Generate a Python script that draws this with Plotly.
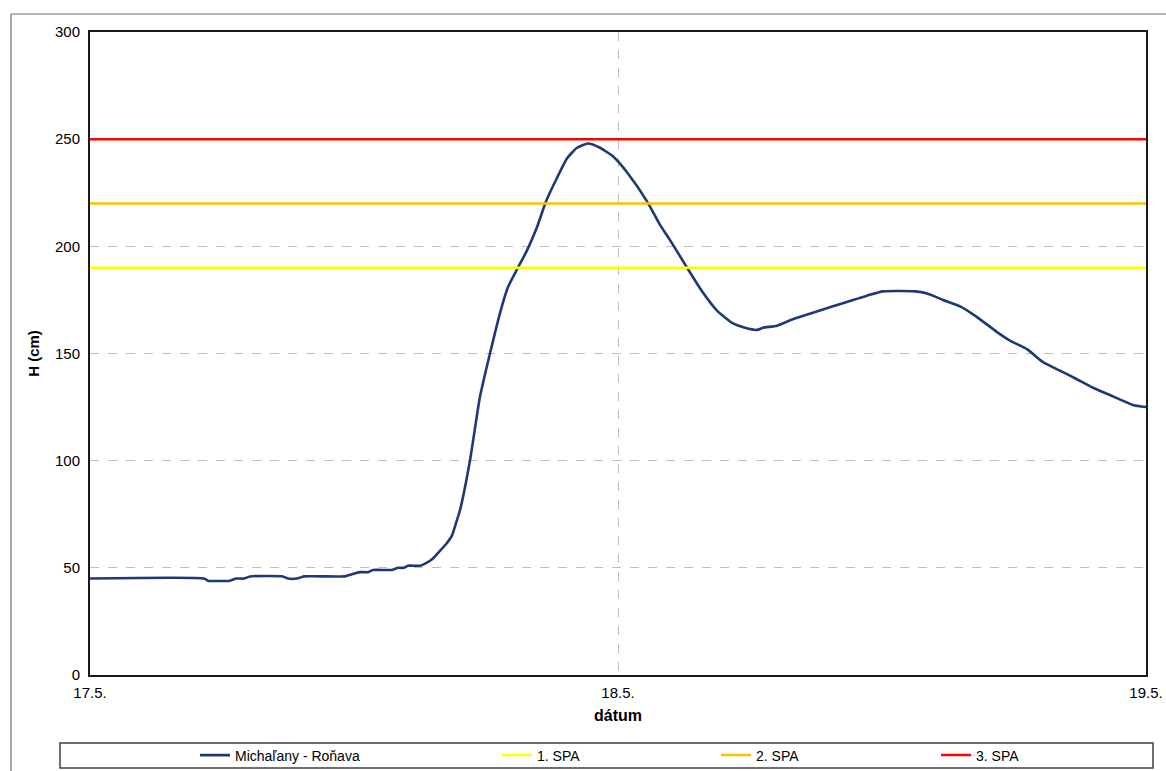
import pandas as pd
import plotly.graph_objects as go

# hours since 17.5. 00:00 and water level H (cm)
hours = [0, 5.18, 5.36, 6.36, 6.64, 7.0, 7.27, 8.77, 9.0, 9.41, 9.73, 11.59, 11.91, 12.27,
         12.64, 12.86, 13.73, 14.0, 14.27, 14.45, 15.0, 15.23, 15.55, 15.82, 16.18, 16.45,
         16.64, 16.82, 17.27, 17.73, 18.18, 18.64, 19.0, 19.45, 19.86, 20.32, 20.73, 21.23,
         21.68, 22.14, 22.64, 23.18, 23.77, 24.45, 25.32, 25.91, 26.36, 27.14, 27.82, 28.5,
         29.23, 29.77, 30.32, 30.59, 31.23, 31.95, 32.86, 33.77, 34.68, 35.32, 36.05, 37.5,
         38.05, 38.77, 39.55, 40.32, 41.23, 41.82, 42.59, 43.32, 44.09, 44.86, 45.59, 46.5,
         47.41, 48.0]
level = [45, 45, 44, 44, 45, 45, 46, 46, 45, 45, 46, 46, 47, 48,
         48, 49, 49, 50, 50, 51, 51, 52, 54, 57, 61, 65,
         71, 77, 100, 130, 150, 169, 181, 190, 198, 209, 221, 232,
         241, 246, 248, 246, 242, 234, 221, 210, 203, 190, 179, 170,
         164, 162, 161, 162, 163, 166, 169, 172, 175, 177, 179, 179,
         178, 175, 172, 167, 160, 156, 152, 146, 142, 138, 134, 130,
         126, 125]

spa_names = ["1. SPA", "2. SPA", "3. SPA"]
spa_values = [190, 220, 250]
spa_colors = ["#FFFF00", "#FFC000", "#FF0000"]

tick_dates = ["2021-05-17", "2021-05-18", "2021-05-19"]
tick_labels = ["17.5.", "18.5.", "19.5."]

start = pd.Timestamp("2021-05-17 00:00")
end = pd.Timestamp("2021-05-19 00:00")
times = [start + pd.Timedelta(hours=h) for h in hours]

fig = go.Figure()
fig.add_trace(go.Scatter(x=times, y=level, mode="lines", name="Michaľany - Roňava",
                         line=dict(color="#1F3876", width=2.6, shape="spline", smoothing=0.5),
                         legend="legend"))
legs = ["legend2", "legend3", "legend4"]
for n, v, c, lg in zip(spa_names, spa_values, spa_colors, legs):
    fig.add_trace(go.Scatter(x=[start, end], y=[v, v], mode="lines", name=n,
                             line=dict(color=c, width=2.5), legend=lg))

W, H = 1166, 771
L, R, T, B = 90, 20, 32, 96
pw, ph = W - L - R, H - T - B

def px_x(x):
    return (x - L) / pw

def px_y(y):
    return (H - B - y) / ph

FONT = "Liberation Sans, Arial"
legend_y = px_y(755.5)
legend_common = dict(orientation="h", yanchor="middle", xanchor="left", y=legend_y,
                     bgcolor="rgba(0,0,0,0)", font=dict(family=FONT, size=14, color="#000"),
                     itemwidth=30)

fig.update_layout(
    width=W, height=H,
    margin=dict(l=L, r=R, t=T, b=B, autoexpand=False),
    paper_bgcolor="white", plot_bgcolor="white",
    font=dict(family=FONT, size=15, color="#000"),
    showlegend=True,
    legend=dict(x=px_x(195), **legend_common),
    legend2=dict(x=px_x(497), **legend_common),
    legend3=dict(x=px_x(716), **legend_common),
    legend4=dict(x=px_x(936), **legend_common),
    xaxis=dict(type="date", range=[start, end], tickvals=tick_dates, ticktext=tick_labels,
               showgrid=True, gridcolor="#BFBFBF", griddash="dash", gridwidth=1,
               showline=True, linecolor="#1a1a1a", linewidth=2, mirror=True,
               ticks="", ticklabelstandoff=3, zeroline=False, automargin=False,
               title=dict(text="<b>dátum</b>", font=dict(size=16), standoff=10)),
    yaxis=dict(range=[0, 300], tickvals=[0, 50, 100, 150, 200, 250, 300],
               showgrid=True, gridcolor="#BFBFBF", griddash="dash", gridwidth=1,
               showline=True, linecolor="#1a1a1a", linewidth=2, mirror=True,
               ticks="", ticklabelstandoff=5, zeroline=False, automargin=False,
               title=dict(text="<b>H (cm)</b>", font=dict(size=15), standoff=12)),
    shapes=[
        dict(type="rect", xref="paper", yref="paper", x0=px_x(60), x1=px_x(1153),
             y0=px_y(768), y1=px_y(743), line=dict(color="#404040", width=1.5)),
        dict(type="line", xref="paper", yref="paper", x0=px_x(11), x1=px_x(1170),
             y0=px_y(14), y1=px_y(14), line=dict(color="#6e6e6e", width=1.2)),
        dict(type="line", xref="paper", yref="paper", x0=px_x(11), x1=px_x(11),
             y0=px_y(14), y1=px_y(775), line=dict(color="#6e6e6e", width=1.2)),
    ],
)

fig.write_html("out.html", config={"displayModeBar": False},
               post_script="document.body.style.margin='0';document.body.style.overflow='hidden';")
